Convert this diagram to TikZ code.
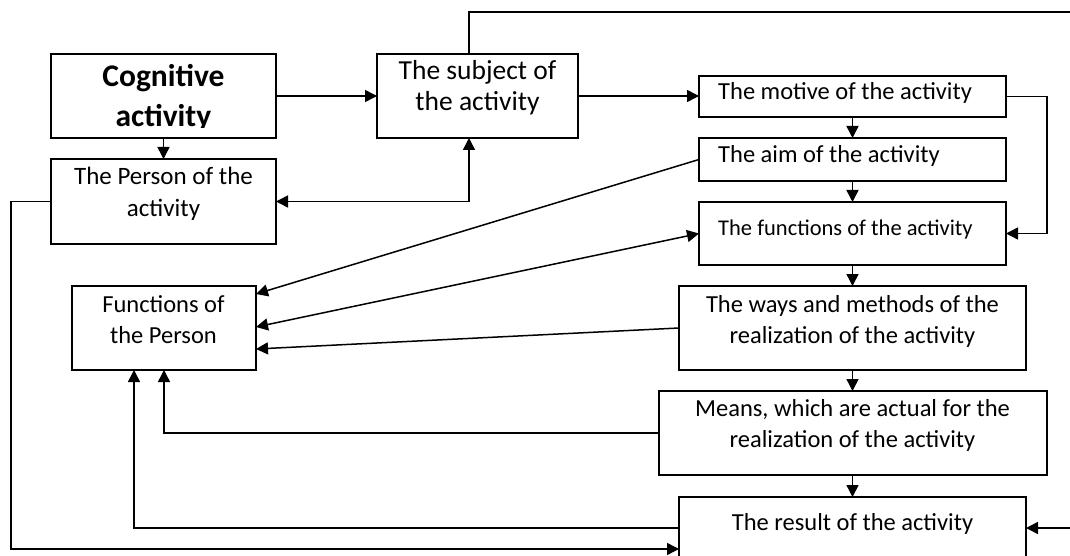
\documentclass[tikz,border=0pt]{standalone}
\usepackage{fontspec}
\setmainfont{Carlito}
\usetikzlibrary{arrows.meta,calc}
\newcommand{\twolines}[2]{\begin{tabular}[t]{@{}c@{}}#1\\#2\end{tabular}}
\begin{document}
\begin{tikzpicture}[x=1pt,y=-1pt,
  boxst/.style={draw, line width=1.9pt, inner sep=0pt, outer sep=0pt, rectangle},
  con/.style={line width=1.5pt},
  arr/.style={con, -{Triangle[length=12pt,width=12pt]}},
  arrb/.style={con, {Triangle[length=12pt,width=12pt]}-{Triangle[length=12pt,width=12pt]}},
  txt/.style={inner sep=0pt, anchor=base, font=\fontsize{24.5}{30.5}\selectfont},
  txtl/.style={txt, anchor=base west}]
\clip (0,0) rectangle (1070,556);
\fill[white] (0,0) rectangle (1070,556);

% boxes
\node[boxst, minimum width=225pt, minimum height=84pt] (cog) at (163.5,96) {};
\node[boxst, minimum width=225pt, minimum height=85pt] (person) at (163.5,201.5) {};
\node[boxst, minimum width=201pt, minimum height=84pt] (subj) at (477.5,96) {};
\node[boxst, minimum width=307pt, minimum height=41pt] (motive) at (852.5,96.5) {};
\node[boxst, minimum width=307pt, minimum height=43pt] (aim) at (852.5,159.5) {};
\node[boxst, minimum width=307pt, minimum height=63pt] (func) at (852.5,233.5) {};
\node[boxst, minimum width=347pt, minimum height=84pt] (ways) at (852.5,328) {};
\node[boxst, minimum width=388pt, minimum height=84pt] (means) at (853,433) {};
\node[boxst, minimum width=347pt, minimum height=84pt] (result) at (852.5,539) {};
\node[boxst, minimum width=184pt, minimum height=84pt] (fop) at (164,328) {};

% texts
\begin{scope}
\clip (51,54) rectangle (276,128);
\node[txt, font=\bfseries\fontsize{31.5}{40}\selectfont] (cogT) at (163.5,87) {\twolines{Cognitive}{activity}};
\end{scope}
\node[txt, font=\fontsize{27.5}{31}\selectfont] (subjT) at (477.5,80) {\twolines{The subject of}{the activity}};
\node[txt, font=\fontsize{25}{32}\selectfont] (personT) at (163.5,185) {\twolines{The Person of the}{activity}};
\node[txtl] (motiveT) at (718,100) {The motive of the activity};
\node[txtl] (aimT) at (718,163) {The aim of the activity};
\node[txtl, font=\fontsize{22.5}{28}\selectfont] (funcT) at (718,235) {The functions of the activity};
\node[txt] (waysT) at (852.5,312.5) {\twolines{The ways and methods of the}{realization of the activity}};
\node[txt] (meansT) at (852.5,416.5) {\twolines{Means, which are actual for the}{realization of the activity}};
\node[txt] (resultT) at (852.5,530) {The result of the activity};
\node[txt] (fopT) at (163.5,312.5) {\twolines{Functions of}{the Person}};

% connectors
\coordinate (topend) at (1075,12);
\coordinate (rightend) at (1075,528);
\coordinate (resL1) at (679,528);
\coordinate (resL2) at (679,549);
\draw[arr] (cog.east) -- (subj.west);
\draw[arr] (cog.south) -- (person.north);
\draw[con] ($(subj.north)+(-8.5,0)$) |- (topend);
\draw[arrb] (person.east) -| ($(subj.south)+(-8.5,0)$);
\draw[arr] (subj.east) -- (subj.east -| motive.west);
\draw[arr] (motive.south) -- (aim.north);
\draw[arr] (aim.south) -- (func.north);
\draw[arr] (func.south) -- (ways.north);
\draw[arr] (ways.south) -- (ways.south |- means.north);
\draw[arr] (means.south -| ways.south) -- (result.north);
\draw[arr] (motive.east) -- ++(41,0) |- (func.east);
\draw[arr] (aim.west) -- ($(fop.north east)+(0,8)$);
\draw[arrb] ($(fop.north east)+(0,41)$) -- (func.west);
\draw[arr] (ways.west) -- ($(fop.north east)+(0,63)$);
\draw[arr] (means.west) -| (fop.south);
\draw[arr] (resL1 -| result.west) -| ($(fop.south)+(-30,0)$);
\draw[arr] (person.west) -- ++(-40,0) |- (resL2 -| result.west);
\draw[arr] (rightend) -- (rightend -| result.east);
\end{tikzpicture}
\end{document}
